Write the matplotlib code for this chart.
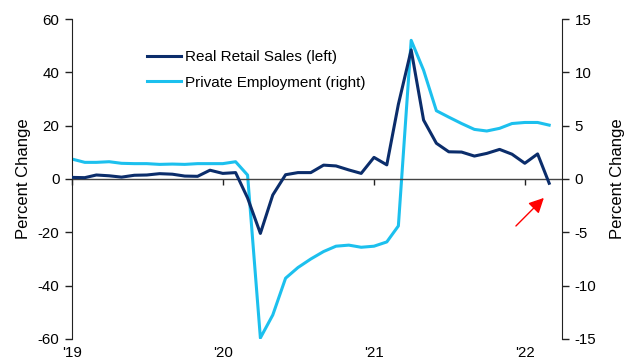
import numpy as np
import pandas as pd
import matplotlib
matplotlib.use("Agg")
import matplotlib.pyplot as plt
import matplotlib.dates as mdates

plt.rcParams['font.family'] = ['Liberation Sans', 'DejaVu Sans']
plt.rcParams['axes.unicode_minus'] = False

dates = pd.date_range("2019-01-01", periods=39, freq="MS")
retail_sales = [0.6, 0.5, 1.5, 1.2, 0.7, 1.4, 1.5, 2.0, 1.8, 1.1, 1.0, 3.3,
                2.1, 2.4, -7.1, -20.4, -6.0, 1.6, 2.4, 2.4, 5.2, 4.9, 3.4, 2.1,
                8.1, 5.3, 28.0, 48.4, 22.1, 13.4, 10.2, 10.1, 8.6, 9.6, 11.1, 9.3,
                5.9, 9.4, -1.6]
private_emp = [1.87, 1.56, 1.56, 1.62, 1.47, 1.44, 1.44, 1.37, 1.40, 1.37, 1.44, 1.44,
               1.44, 1.62, 0.37, -14.9, -12.75, -9.3, -8.3, -7.5, -6.8, -6.3, -6.2, -6.4,
               -6.3, -5.9, -4.4, 13.0, 10.2, 6.4, 5.8, 5.2, 4.65, 4.5, 4.75, 5.2,
               5.3, 5.3, 5.05]
left_ticks = [-60, -40, -20, 0, 20, 40, 60]
right_ticks = [-15, -10, -5, 0, 5, 10, 15]
series_labels = ["Real Retail Sales (left)", "Private Employment (right)"]
axis_label = "Percent Change"

navy = "#0b2d6b"
cyan = "#1cc0ee"
axc = "#222222"

fig = plt.figure(figsize=(6.27, 3.64), dpi=100)
ax = fig.add_axes([0.1148, 0.0687, 0.8963 - 0.1148, 0.9478 - 0.0687])
ax2 = ax.twinx()

ax.set_ylim(-60, 60)
ax2.set_ylim(-15, 15)
ax.set_xlim(pd.Timestamp("2019-01-01"), pd.Timestamp("2022-04-01"))

ax.axhline(0, color="#444444", lw=1.0, zorder=1)
l2, = ax2.plot(dates, private_emp, color=cyan, lw=2.2, zorder=3)
l1, = ax.plot(dates, retail_sales, color=navy, lw=2.2, zorder=4)
ax.set_zorder(ax2.get_zorder() + 1)
ax.patch.set_visible(False)

for a in (ax, ax2):
    a.spines['top'].set_visible(False)
    a.spines['bottom'].set_visible(False)
    a.spines['left'].set_color(axc)
    a.spines['right'].set_color(axc)
ax.spines['right'].set_visible(False)
ax2.spines['left'].set_visible(False)

ax.set_yticks(left_ticks)
ax2.set_yticks(right_ticks)
ax.tick_params(axis='y', direction='out', length=5, width=1, color=axc, labelsize=10.8, pad=4)
ax2.tick_params(axis='y', direction='out', length=5, width=1, color=axc, labelsize=10.8, pad=4)

ax.xaxis.set_major_locator(mdates.YearLocator())
ax.xaxis.set_major_formatter(mdates.DateFormatter("'%y"))
ax.tick_params(axis='x', length=0, labelsize=10.8, pad=5)

sec = ax.secondary_xaxis(0.5)
sec.xaxis.set_major_locator(mdates.YearLocator())
sec.xaxis.set_major_formatter(plt.NullFormatter())
sec.tick_params(axis='x', direction='in', length=4, width=1, color=axc,
                labeltop=False, labelbottom=False)
for s in sec.spines.values():
    s.set_visible(False)

ax.set_ylabel(axis_label, fontsize=12, labelpad=5)
ax2.set_ylabel(axis_label, fontsize=12, rotation=90, labelpad=10)

ax.legend([l1, l2], series_labels, loc="upper left", bbox_to_anchor=(0.125, 0.945),
          frameon=False, fontsize=11, handlelength=2.2, handletextpad=0.3, labelspacing=0.75)

ax.annotate("", xy=(0.967, 0.447), xytext=(0.902, 0.347), xycoords='axes fraction',
            arrowprops=dict(arrowstyle="-|>,head_length=0.9,head_width=0.45", color="red", lw=1.0))

fig.savefig("out.png", dpi=100)
